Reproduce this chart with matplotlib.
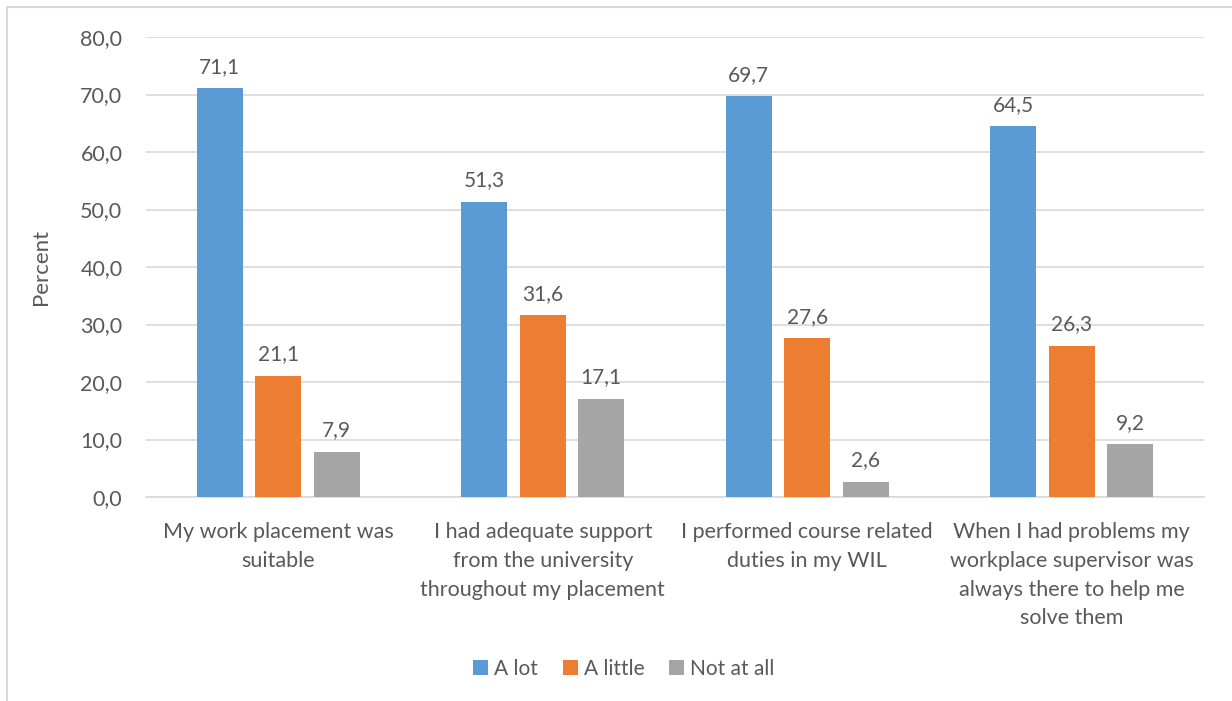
import numpy as np
import matplotlib.pyplot as plt
from matplotlib.patches import Rectangle

# Survey results (percent of respondents)
categories = [
    "My work placement was\nsuitable",
    "I had adequate support\nfrom the university\nthroughout my placement",
    "I performed course related\nduties in my WIL",
    "When I had problems my\nworkplace supervisor was\nalways there to help me\nsolve them",
]
series_names = ["A lot", "A little", "Not at all"]
a_lot = [71.1, 51.3, 69.7, 64.5]
a_little = [21.1, 31.6, 27.6, 26.3]
not_at_all = [7.9, 17.1, 2.6, 9.2]
colors = ["#5b9bd5", "#ed7d31", "#a5a5a5"]

plt.rcParams['font.family'] = ['Lato', 'DejaVu Sans']
txt = "#595959"

fig = plt.figure(figsize=(12.32, 7.01), dpi=100)
ax = fig.add_axes([146/1232, 1-497/701, (1204-146)/1232, (497-37)/701])

# outer chart border (only top/left visible inside the image)
fig.patches.append(Rectangle((7/1232, -0.1), 1.2, 1-7/701+0.1, transform=fig.transFigure,
                             fill=False, edgecolor="#d9d9d9", linewidth=1.5))

x = np.arange(len(categories))
width = 0.174
step = 0.221
for i, (vals, name) in enumerate(zip([a_lot, a_little, not_at_all], series_names)):
    bars = ax.bar(x + (i - 1) * step, vals, width, color=colors[i], label=name, zorder=3)
    for b, v in zip(bars, vals):
        ax.text(b.get_x() + b.get_width() / 2, v + 2.0, f"{v:.1f}".replace(".", ","),
                ha="center", va="bottom", fontsize=15, color=txt)

ax.set_xlim(-0.5, len(categories) - 0.5)
ax.set_ylim(0, 80)
ax.set_yticks(np.arange(0, 81, 10))
ax.set_yticklabels([f"{t:.1f}".replace(".", ",") for t in np.arange(0, 81, 10)])
ax.set_xticks(x)
ax.set_xticklabels(categories, linespacing=1.55)
ax.tick_params(axis="both", length=0, labelsize=15.5, labelcolor=txt)
ax.tick_params(axis="y", pad=17)
ax.tick_params(axis="x", pad=18)
ax.grid(axis="y", color="#d9d9d9", linewidth=1.2, zorder=0)
for s in ["top", "right", "left"]:
    ax.spines[s].set_visible(False)
ax.spines["bottom"].set_color("#d9d9d9")
ax.spines["bottom"].set_linewidth(1.2)
ax.set_ylabel("Percent", fontsize=16, color=txt, labelpad=21)

fig.legend(loc="center", bbox_to_anchor=(624/1232, 1-669/701), ncol=3, frameon=False,
           fontsize=15, labelcolor=txt, handlelength=0.7, handleheight=0.7,
           handletextpad=0.3, columnspacing=1.2)

fig.savefig("out.png", dpi=100)
